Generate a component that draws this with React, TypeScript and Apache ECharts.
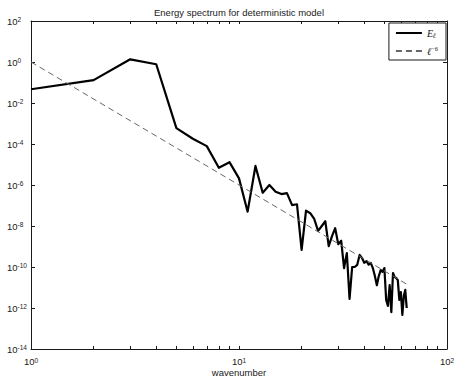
import React, { useEffect, useRef } from "react";
import * as echarts from "echarts";

const titleText = "Energy spectrum for deterministic model";
const xLabelText = "wavenumber";

const wavenumbers = [
  1, 2, 3, 4, 5, 6, 7, 8, 9, 10, 11, 12, 13, 14, 15, 16, 17, 18, 19, 20, 21, 22, 23, 24, 25, 26, 27, 28, 29, 30, 31, 32,
  33, 34, 35, 36, 37, 38, 39, 40, 41, 42, 43, 44, 45, 46, 47, 48, 49, 50, 51, 52, 53, 54, 55, 56, 57, 58, 59, 60, 61, 62, 63, 64,
];

const energy = [
  4.7e-2, 1.3e-1, 1.35, 7.8e-1, 5.9e-4, 1.8e-4, 7.9e-5, 6.9e-6, 1.3e-5, 2.1e-6,
  5.0e-8, 8.5e-6, 4.2e-7, 1.0e-6, 4.7e-7, 3.6e-7, 4.0e-7, 1.05e-7, 1.15e-7, 6.8e-10,
  5.6e-8, 4.2e-8, 2.2e-8, 5.8e-9, 1.0e-8, 1.7e-8, 1.05e-9, 3.2e-9, 7.8e-9, 1.3e-9,
  1.9e-9, 8.9e-11, 4.8e-10, 2.8e-12, 1.0e-10, 1.0e-10, 1.26e-10, 3.9e-10, 2.8e-10, 1.6e-10,
  1.95e-10, 1.3e-10, 1.6e-10, 8.9e-11, 3.6e-11, 1.3e-11, 3.6e-11, 7.1e-11, 5.8e-11, 8.9e-11,
  2.5e-12, 1.26e-12, 1.3e-11, 6.3e-13, 5.1e-11, 3.2e-11, 2.9e-11, 2.3e-11, 2.5e-12, 6.0e-12,
  4.6e-13, 3.9e-12, 7.6e-12, 1.0e-12,
];

// reference slope line l^-6 (straight on log-log axes): end points
const refX = [1, 64];
const refY = [1, 1.46e-11];

const xTickValues = [1, 2, 3, 4, 5, 6, 7, 8, 9, 10, 20, 30, 40, 50, 60, 70, 80, 90, 100];
const xLabelExponents = [0, 1, 2];
const yLabelExponents = [-14, -12, -10, -8, -6, -4, -2, 0, 2];

const seriesNames = ["E_l", "l^-6"];

const lg = (v: number) => Math.log10(v);

const rich = {
  b: { fontSize: 9.5, fontFamily: "Liberation Sans", color: "#1a1a1a", lineHeight: 10 },
  s: { fontSize: 6.5, fontFamily: "Liberation Sans", color: "#1a1a1a", lineHeight: 7, verticalAlign: "top" as const },
};

const expLabel = (v: number) => `{b|10}{s|${Math.round(v)}}`;

export default function App() {
  const ref = useRef<HTMLDivElement>(null);
  useEffect(() => {
    document.body.style.margin = "0";
    document.body.style.overflow = "hidden";
    if (!ref.current) return;
    const chart = echarts.init(ref.current, undefined, { renderer: "svg" });
    const axisLineStyle = { color: "#1a1a1a", width: 1 };
    const xTicks = xTickValues.map(lg);
    const baseX = {
      type: "value" as const,
      min: 0,
      max: 2,
      interval: 1,
      splitLine: { show: false },
      axisLine: { show: true, onZero: false, lineStyle: axisLineStyle },
      axisTick: { show: true, inside: true, length: 3, customValues: xTicks, lineStyle: axisLineStyle },
    };
    const baseY = {
      type: "value" as const,
      min: -14,
      max: 2,
      interval: 2,
      splitLine: { show: false },
      axisLine: { show: true, onZero: false, lineStyle: axisLineStyle },
      axisTick: { show: true, inside: true, length: 4, lineStyle: axisLineStyle },
    };
    chart.setOption({
      animation: false,
      backgroundColor: "#ffffff",
      textStyle: { fontFamily: "Liberation Sans" },
      grid: { left: 31, right: 9, top: 21, bottom: 28, containLabel: false, outerBoundsMode: "none" },
      xAxis: [
        {
          ...baseX,
          position: "bottom",
          axisLabel: {
            show: true,
            margin: 7.5,
            customValues: xLabelExponents,
            formatter: expLabel,
            rich,
          },
          name: xLabelText,
          nameLocation: "middle",
          nameGap: 18,
          nameMoveOverlap: false,
          nameTextStyle: { fontSize: 9.5, lineHeight: 10, color: "#1a1a1a", fontFamily: "Liberation Sans" },
        },
        {
          ...baseX,
          position: "top",
          axisLabel: { show: false },
          name: titleText,
          nameLocation: "middle",
          nameGap: 4,
          nameMoveOverlap: false,
          nameTextStyle: { fontSize: 9.5, color: "#1a1a1a", fontFamily: "Liberation Sans" },
        },
      ],
      yAxis: [
        {
          ...baseY,
          position: "left",
          axisLabel: {
            show: true,
            margin: 24,
            align: "left",
            customValues: yLabelExponents,
            formatter: expLabel,
            rich,
          },
        },
        {
          ...baseY,
          position: "right",
          axisLabel: { show: false },
        },
      ],
      legend: {
        show: true,
        orient: "vertical",
        right: 10,
        top: 23,
        backgroundColor: "#ffffff",
        borderColor: "#1a1a1a",
        borderWidth: 1,
        borderRadius: 0,
        padding: [5, 8, 4, 6],
        itemGap: 6,
        itemWidth: 26,
        itemHeight: 12,
        itemStyle: { opacity: 0 },
        data: seriesNames,
        formatter: (name: string) =>
          name === seriesNames[0] ? "{it|E}{sub|ℓ}" : "{it|ℓ}{sup|−6}",
        textStyle: {
          color: "#1a1a1a",
          rich: {
            it: { fontFamily: "Liberation Serif", fontStyle: "italic", fontSize: 10, color: "#1a1a1a", lineHeight: 12 },
            sub: { fontFamily: "Liberation Serif", fontStyle: "italic", fontSize: 7, color: "#1a1a1a", lineHeight: 9, verticalAlign: "bottom" },
            sup: { fontFamily: "Liberation Serif", fontSize: 6.5, color: "#1a1a1a", lineHeight: 7, verticalAlign: "top" },
          },
        },
      },
      series: [
        {
          type: "line",
          name: seriesNames[0],
          xAxisIndex: 0,
          yAxisIndex: 0,
          data: wavenumbers.map((k, i) => [lg(k), lg(energy[i])]),
          symbol: "none",
          showSymbol: false,
          lineStyle: { color: "#000000", width: 2.2, join: "round" },
          itemStyle: { color: "#000000" },
          z: 3,
        },
        {
          type: "line",
          name: seriesNames[1],
          xAxisIndex: 0,
          yAxisIndex: 0,
          data: refX.map((x, i) => [lg(x), lg(refY[i])]),
          symbol: "none",
          showSymbol: false,
          lineStyle: { color: "#666666", width: 1, type: [6, 4] },
          itemStyle: { color: "#666666" },
          z: 4,
        },
      ],
    });
    return () => chart.dispose();
  }, []);
  return (
    <div
      ref={ref}
      style={{ position: "fixed", left: 0, top: 0, width: 456, height: 377, background: "#fff" }}
    />
  );
}
